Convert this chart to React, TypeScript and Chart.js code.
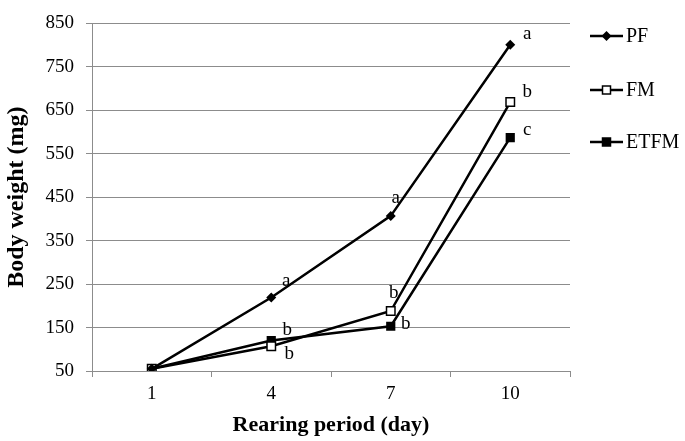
import React, { useEffect, useRef } from "react";
import { Chart, registerables } from "chart.js";

Chart.register(...registerables);

const categories = ["1", "4", "7", "10"];
const pfValues = [55, 219, 407, 801];
const fmValues = [55, 107, 188, 669];
const etfmValues = [55, 120, 153, 587];
const pfLetters = ["", "a", "a", "a"];
const fmLetters = ["", "b", "b", "b"];
const etfmLetters = ["", "b", "b", "c"];
const seriesNames = ["PF", "FM", "ETFM"];

// label offsets (dx, dy) per series/point
const labelOffsets = [
  [[0, 0], [15, -17], [5, -18], [17, -11]],
  [[0, 0], [18, 8], [3, -18], [17, -10]],
  [[0, 0], [16, -11], [15, -2], [17, -8]],
];

const FONT = "'Liberation Serif', 'Times New Roman', serif";

const annotationPlugin = {
  id: "letters",
  afterDatasetsDraw(chart: any) {
    const ctx = chart.ctx;
    const letterSets = [pfLetters, fmLetters, etfmLetters];
    ctx.save();
    ctx.font = `19px ${FONT}`;
    ctx.fillStyle = "#000";
    ctx.textAlign = "center";
    ctx.textBaseline = "middle";
    letterSets.forEach((letters, di) => {
      const meta = chart.getDatasetMeta(di);
      letters.forEach((l, i) => {
        if (!l) return;
        const p = meta.data[i];
        const [dx, dy] = labelOffsets[di][i];
        ctx.fillText(l, p.x + dx, p.y + dy);
      });
    });
    ctx.restore();
  },
};

const legendPlugin = {
  id: "customLegend",
  afterDraw(chart: any) {
    const ctx = chart.ctx;
    const ys = [36, 90, 142];
    const x0 = 590;
    const x1 = 623;
    ctx.save();
    chart.data.datasets.forEach((ds: any, i: number) => {
      const y = ys[i];
      ctx.strokeStyle = "#000";
      ctx.lineWidth = 2.5;
      ctx.beginPath();
      ctx.moveTo(x0, y);
      ctx.lineTo(x1, y);
      ctx.stroke();
      const cx = (x0 + x1) / 2;
      ctx.fillStyle = ds.pointBackgroundColor;
      ctx.strokeStyle = "#000";
      ctx.lineWidth = 1.5;
      if (ds.pointStyle === "rectRot") {
        ctx.beginPath();
        ctx.moveTo(cx, y - 5);
        ctx.lineTo(cx + 5, y);
        ctx.lineTo(cx, y + 5);
        ctx.lineTo(cx - 5, y);
        ctx.closePath();
        ctx.fill();
      } else {
        ctx.fillRect(cx - 4, y - 4, 8, 8);
        ctx.strokeRect(cx - 4, y - 4, 8, 8);
      }
      ctx.fillStyle = "#000";
      ctx.font = `20px ${FONT}`;
      ctx.textAlign = "left";
      ctx.textBaseline = "middle";
      ctx.fillText(ds.label, 626, y + 1);
    });
    ctx.restore();
  },
};

export default function App() {
  const ref = useRef<HTMLCanvasElement>(null);
  useEffect(() => {
    if (!ref.current) return;
    const chart = new Chart(ref.current, {
      type: "line",
      data: {
        labels: categories,
        datasets: [
          {
            label: seriesNames[0],
            data: pfValues,
            borderColor: "#000",
            borderWidth: 2.5,
            pointStyle: "rectRot",
            pointRadius: 5,
            pointBackgroundColor: "#000",
            pointBorderColor: "#000",
            pointBorderWidth: 0,
          },
          {
            label: seriesNames[1],
            data: fmValues,
            borderColor: "#000",
            borderWidth: 2.5,
            pointStyle: "rect",
            pointRadius: 6,
            pointBackgroundColor: "#fff",
            pointBorderColor: "#000",
            pointBorderWidth: 1.5,
          },
          {
            label: seriesNames[2],
            data: etfmValues,
            borderColor: "#000",
            borderWidth: 2.5,
            pointStyle: "rect",
            pointRadius: 6.5,
            pointBackgroundColor: "#000",
            pointBorderColor: "#000",
            pointBorderWidth: 0,
          },
        ],
      },
      options: {
        animation: false,
        responsive: false,
        layout: { padding: { top: 9, right: 115, left: 0, bottom: 0 } },
        plugins: { legend: { display: false }, tooltip: { enabled: false } },
        scales: {
          x: {
            type: "category",
            offset: true,
            grid: {
              offset: true,
              drawOnChartArea: false,
              drawTicks: true,
              tickLength: 6,
              color: "#8c8c8c",
            },
            border: { color: "#8c8c8c", width: 1 },
            ticks: { color: "#000", font: { family: FONT, size: 19 }, padding: 6 },
            title: {
              display: true,
              text: "Rearing period (day)",
              color: "#000",
              font: { family: FONT, size: 22, weight: "bold" },
              padding: { top: 0, bottom: 2 },
            },
            afterFit: (s: any) => {
              s.height = 70;
            },
          },
          y: {
            min: 50,
            max: 850,
            ticks: {
              stepSize: 100,
              color: "#000",
              font: { family: FONT, size: 19 },
              padding: 12,
            },
            grid: { color: "#8c8c8c", tickLength: 6, lineWidth: 1 },
            border: { color: "#8c8c8c", width: 1 },
            title: {
              display: true,
              text: "Body weight (mg)",
              color: "#000",
              font: { family: FONT, size: 24, weight: "bold" },
              padding: { top: 2, bottom: 0 },
            },
            afterFit: (s: any) => {
              s.width = 92;
            },
          },
        },
      },
      plugins: [annotationPlugin, legendPlugin],
    });
    return () => chart.destroy();
  }, []);
  return (
    <div style={{ position: "fixed", left: 0, top: 0, width: 685, height: 441, background: "#fff" }}>
      <canvas ref={ref} width={685} height={441} />
    </div>
  );
}
